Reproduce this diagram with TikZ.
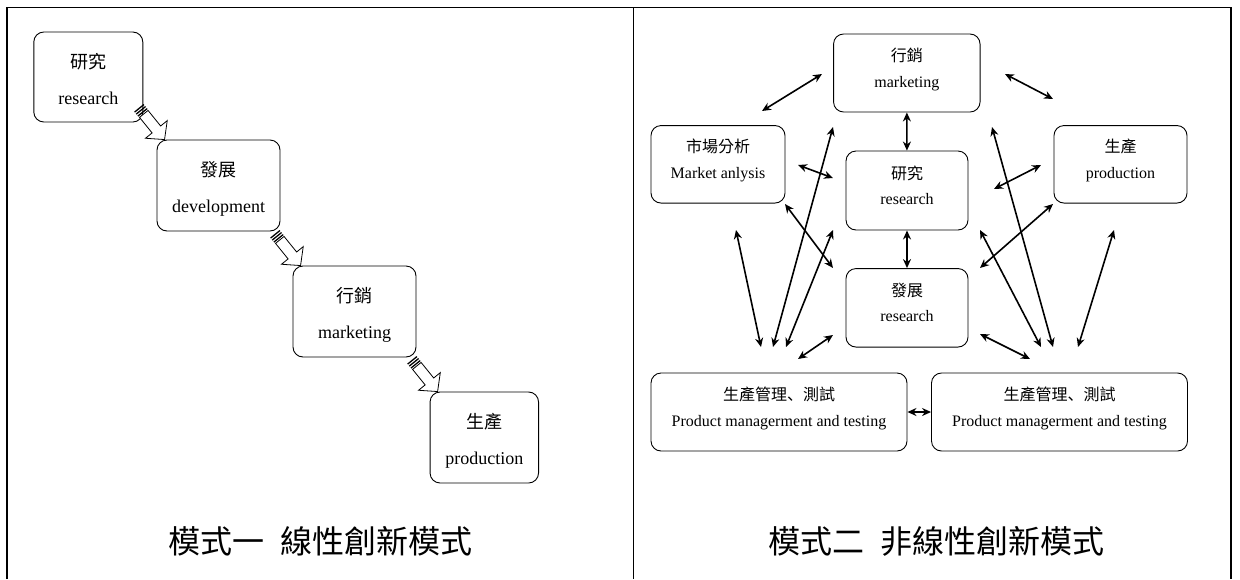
\documentclass[tikz,border=0pt]{standalone}
\usepackage{fontspec}
\setmainfont{Liberation Serif}
\newfontfamily\cjk{Noto Sans CJK TC}
\newfontfamily\cjkjp{Noto Sans CJK JP}
\usetikzlibrary{arrows.meta,calc}
\newcommand{\ZH}[1]{{\cjk #1}}
\newcommand{\dun}{{\cjkjp 、}}

%% hollow block arrow with stripes at its tail, tip at #1
\newcommand\stripearrow[1]{%
  \begin{scope}[shift={#1}, rotate=-51]
    \draw[fill=white, line width=0.8pt] (-33,-5.5) -- (-13,-5.5) -- (-13,-14) -- (0,0)
      -- (-13,14) -- (-13,5.5) -- (-33,5.5) -- cycle;
    \foreach \s in {-35,-37.6,-40.2}
      \draw[line width=1.3pt] (\s,-6) -- (\s,6);
  \end{scope}}

\begin{document}
\begin{tikzpicture}[x=1pt, y=-1pt,
  box/.style={draw, rounded corners=10pt, line width=0.9pt, align=center, inner sep=0pt},
  big/.style={box, font=\fontsize{18}{36}\selectfont, text height=54pt, text depth=0pt},
  small/.style={box, font=\fontsize{16}{25.5}\selectfont, text height=28pt, text depth=0pt},
  title/.style={font=\fontsize{32}{32}\selectfont\cjk},
  link/.style={<->, >={Stealth[length=9pt,width=8pt]}, line width=1.6pt}]

  \useasboundingbox (0,0) rectangle (1240,579);

  %% frame
  \draw[line width=1.5pt] (7,579) -- (7,7.5) -- (1231,7.5) -- (1231,579);
  \draw[line width=1.5pt] (633.5,7.5) -- (633.5,579);

  %% model one: linear
  \node[big, minimum width=109pt, minimum height=90pt] (lres) at (88.3,77) {\ZH{研究}\\research};
  \node[big, minimum width=123pt, minimum height=91pt] (ldev) at (218.5,185.5) {\ZH{發展}\\development};
  \node[big, minimum width=123pt, minimum height=91pt] (lmkt) at (354.5,311.5) {\ZH{行銷}\\marketing};
  \node[big, minimum width=108.5pt, minimum height=91pt] (lprod) at (484.3,437.5) {\ZH{生產}\\production};

  \stripearrow{($(ldev.north west)+(8,0)$)}
  \stripearrow{($(lmkt.north west)+(8,0)$)}
  \stripearrow{($(lprod.north west)+(8,0)$)}

  \node[title] (tone) at (320,541) {模式一\hspace{0.5em}線性創新模式};

  %% model two: non-linear
  \node[small, minimum width=146.5pt, minimum height=78pt] (rmkt) at (906.8,73) {\ZH{行銷}\\marketing};
  \node[small, minimum width=134pt, minimum height=77.5pt] (rana) at (718,164.3) {\ZH{市場分析}\\Market anlysis};
  \node[small, minimum width=122pt, minimum height=79pt] (rres) at (907,190.5) {\ZH{研究}\\research};
  \node[small, minimum width=133pt, minimum height=77.5pt] (rprod) at (1120.5,164.3) {\ZH{生產}\\production};
  \node[small, minimum width=122pt, minimum height=78.5pt] (rdev) at (907,307.8) {\ZH{發展}\\research};
  \node[small, minimum width=256pt, minimum height=78pt] (rpl) at (779,412) {\ZH{生產管理}\dun\ZH{測試}\\Product managerment and testing};
  \node[small, minimum width=256pt, minimum height=78pt] (rpr) at (1059.5,412) {\ZH{生產管理}\dun\ZH{測試}\\Product managerment and testing};

  \draw[link] (rmkt) -- (rres);
  \draw[link] (rres) -- (rdev);
  \draw[link] (rpl) -- (rpr);

  \foreach \n/\a/\b/\c/\d in {1/762/111/822/74, 2/1005/74/1053/99,
      3/798/165/833/178, 4/994/189/1041/165,
      5/785/204/833/268, 6/980/268/1053/204,
      7/736/230/761/347, 8/833/127/773/347,
      9/833/230/786/347, 10/798/359/833/335,
      11/992/127/1053/347, 12/980/230/1041/347,
      13/1114/230/1078/347, 14/980/334/1030/359}
  {
    \coordinate (s\n) at (\a,\b);
    \coordinate (t\n) at (\c,\d);
    \draw[link] (s\n) -- (t\n);
  }

  \node[title] (ttwo) at (936,541) {模式二\hspace{0.5em}非線性創新模式};
\end{tikzpicture}
\end{document}
